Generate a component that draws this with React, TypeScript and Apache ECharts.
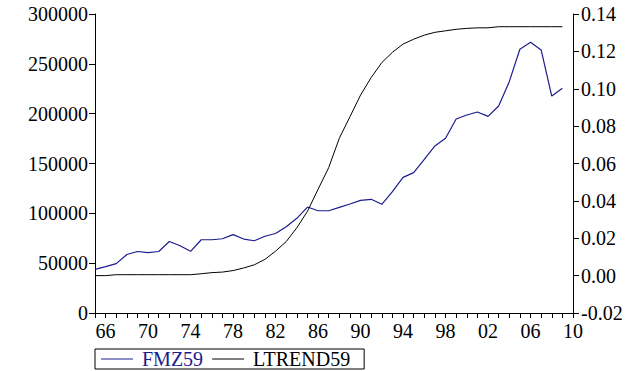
import React, { useEffect, useRef } from "react";
import * as echarts from "echarts";

// Annual observations 1965–2009; the axis runs on to 2010.
const years: string[] = [];
for (let y = 1965; y <= 2010; y++) years.push(String(y));

const fmz59: number[] = [
  43800, 46500, 49500, 58700, 61700, 60500, 61700, 71700, 67500, 61900,
  73500, 73500, 74500, 78600, 74200, 72500, 77000, 79800, 86600, 95000,
  106300, 102600, 102600, 106000, 109400, 113000, 114100, 109100, 121700, 136100,
  140800, 154200, 167600, 175300, 194600, 198700, 201700, 197300, 207700, 232100,
  264600, 271600, 263900, 217700, 225400,
];

const ltrend59: number[] = [
  0.0, 0.0, 0.0005, 0.0005, 0.0005, 0.0005, 0.0005, 0.0005, 0.0005, 0.0005,
  0.001, 0.0016, 0.0019, 0.0027, 0.0041, 0.0058, 0.0087, 0.0131, 0.0182, 0.0256,
  0.0344, 0.0462, 0.0578, 0.0735, 0.085, 0.0966, 0.106, 0.114, 0.1195, 0.1239,
  0.1265, 0.1287, 0.1302, 0.131, 0.1318, 0.1323, 0.1326, 0.1326, 0.1332, 0.1332,
  0.1332, 0.1332, 0.1332, 0.1332, 0.1332,
];

const FONT = "'Liberation Serif', 'Times New Roman', serif";
const NAVY = "#1c1c8e";

export default function App() {
  const ref = useRef<HTMLDivElement>(null);

  useEffect(() => {
    if (!ref.current) return;
    const chart = echarts.init(ref.current, undefined, { renderer: "svg" });
    const axisText = { fontFamily: FONT, fontSize: 20, color: "#000" };
    chart.setOption({
      animation: false,
      backgroundColor: "#fff",
      grid: { left: 95, right: 60, top: 14, bottom: 58, containLabel: false },
      legend: {
        left: 95,
        top: 349,
        orient: "horizontal",
        borderColor: "#000",
        borderWidth: 1,
        padding: [0, 14, 0, 6],
        icon: "rect",
        itemWidth: 32,
        itemHeight: 1,
        itemGap: 9,
        textStyle: { fontFamily: FONT, fontSize: 20, padding: [0, 0, 0, 4] },
        data: [
          { name: "FMZ59", textStyle: { color: NAVY } },
          { name: "LTREND59", textStyle: { color: "#000" } },
        ],
      },
      xAxis: {
        type: "category",
        data: years,
        boundaryGap: false,
        axisLine: { lineStyle: { color: "#000", width: 1 } },
        axisTick: { show: true, interval: 0, length: 5, lineStyle: { color: "#000" } },
        axisLabel: {
          ...axisText,
          margin: 8,
          interval: (_i: number, v: string) => (Number(v) - 1966) % 4 === 0,
          formatter: (v: string) => v.slice(2),
        },
        splitLine: { show: false },
      },
      yAxis: [
        {
          type: "value",
          min: 0,
          max: 300000,
          interval: 50000,
          axisLine: { show: true, lineStyle: { color: "#000", width: 1 } },
          axisTick: { show: true, length: 6, lineStyle: { color: "#000" } },
          axisLabel: { ...axisText, margin: 7, formatter: (v: number) => String(v) },
          splitLine: { show: false },
        },
        {
          type: "value",
          min: -0.02,
          max: 0.14,
          interval: 0.02,
          position: "right",
          axisLine: { show: true, lineStyle: { color: "#000", width: 1 } },
          axisTick: { show: true, length: 6, lineStyle: { color: "#000" } },
          axisLabel: { ...axisText, margin: 8, formatter: (v: number) => v.toFixed(2) },
          splitLine: { show: false },
        },
      ],
      series: [
        {
          name: "FMZ59",
          type: "line",
          yAxisIndex: 0,
          data: fmz59,
          symbol: "none",
          color: NAVY,
          lineStyle: { color: NAVY, width: 1.2 },
        },
        {
          name: "LTREND59",
          type: "line",
          yAxisIndex: 1,
          data: ltrend59,
          symbol: "none",
          color: "#000",
          lineStyle: { color: "#000", width: 1 },
        },
      ],
    });
    return () => chart.dispose();
  }, []);

  return (
    <div
      ref={ref}
      style={{ position: "fixed", left: 0, top: 0, width: 633, height: 371, background: "#fff" }}
    />
  );
}
